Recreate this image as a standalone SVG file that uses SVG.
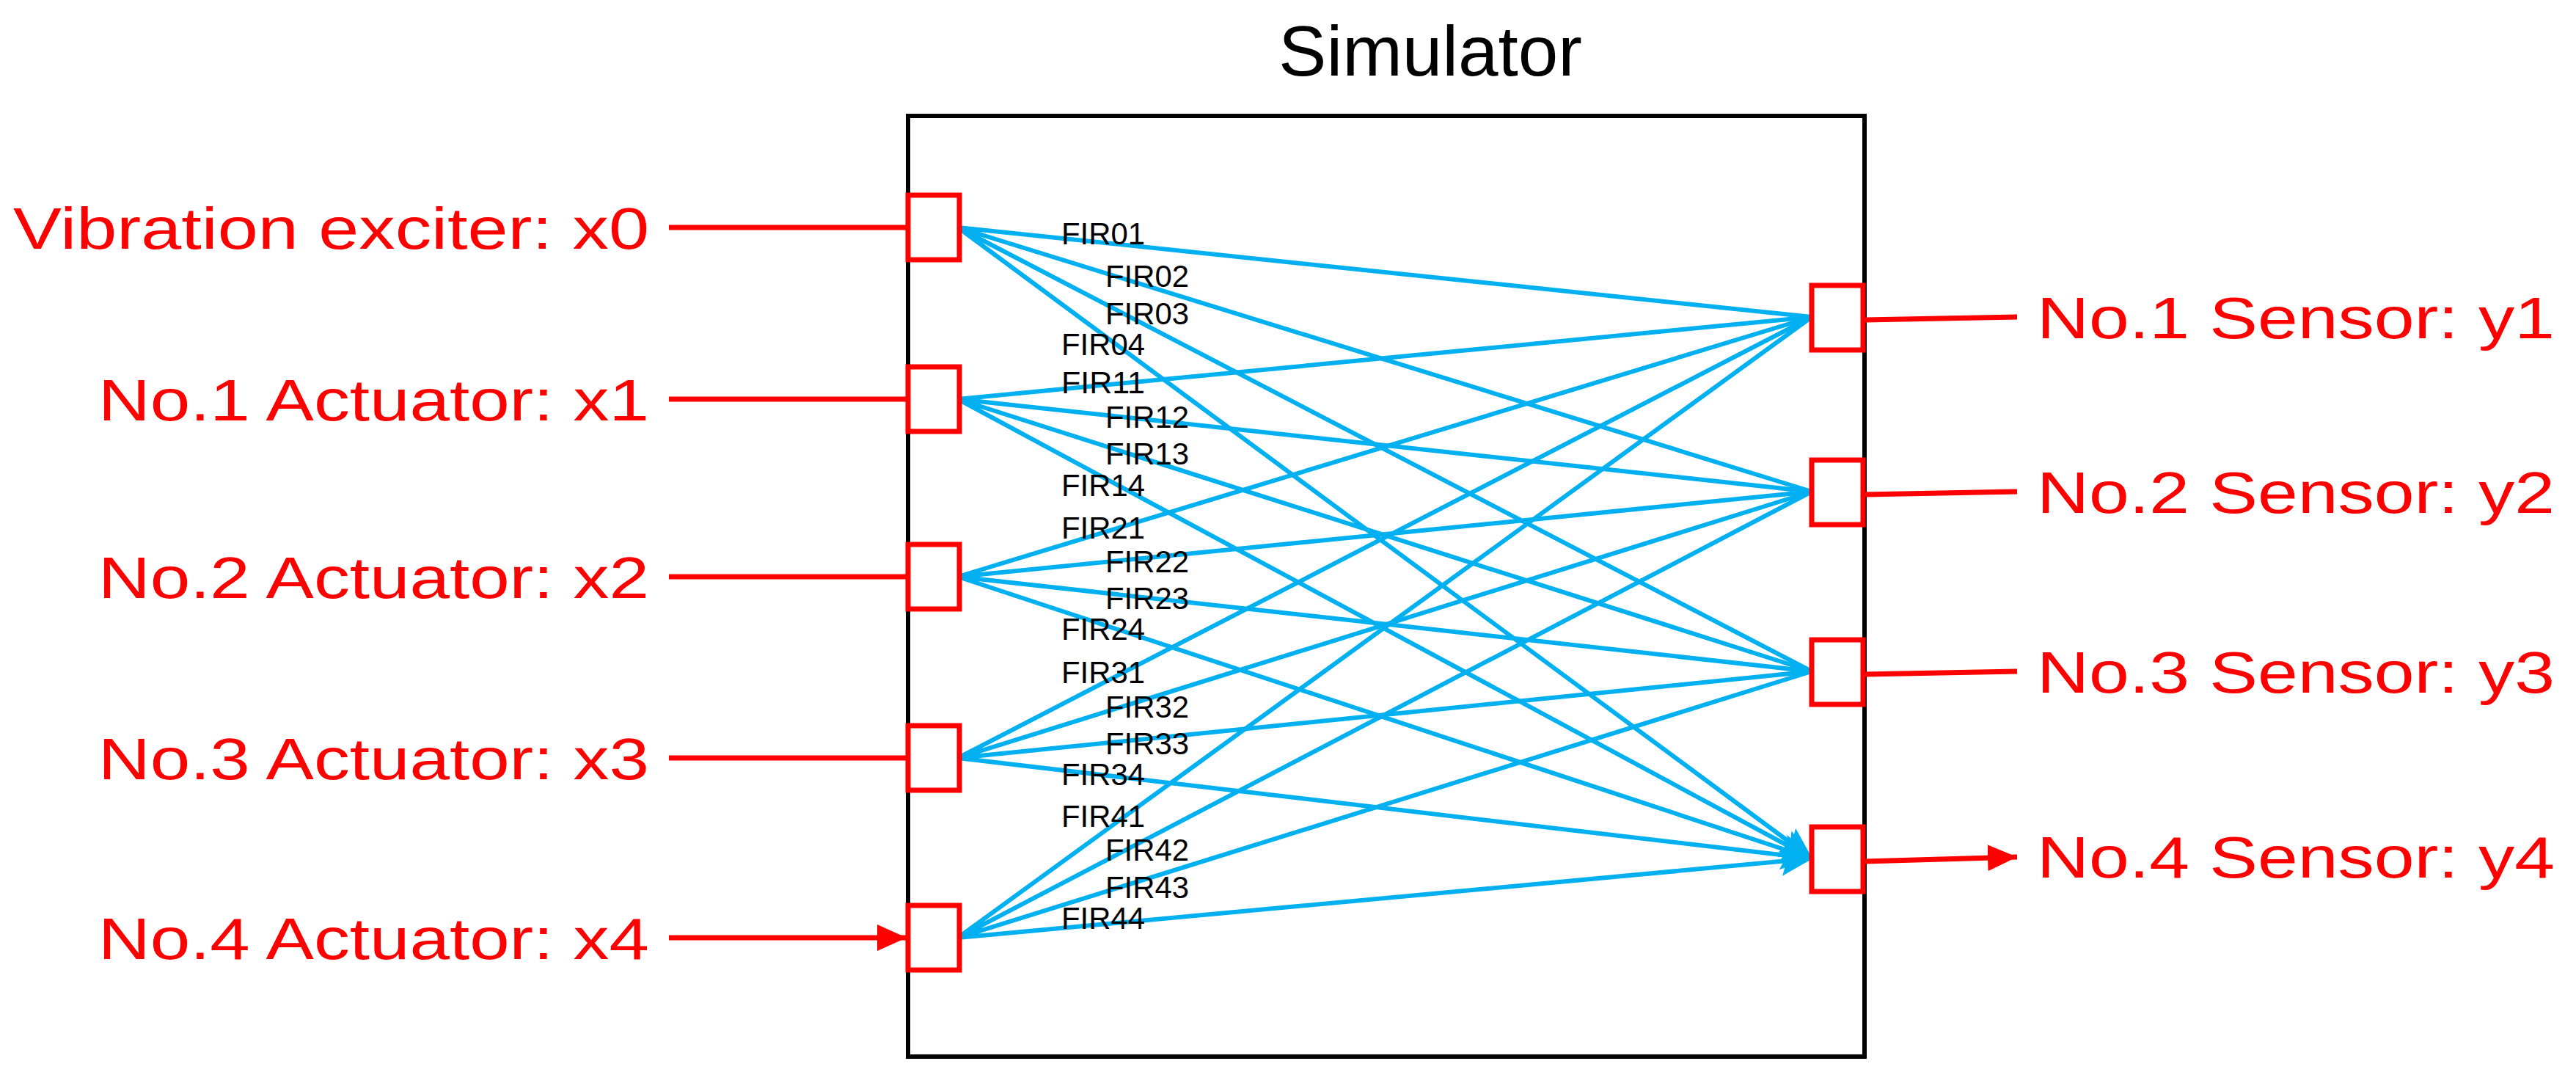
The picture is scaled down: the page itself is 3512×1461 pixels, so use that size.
<svg xmlns="http://www.w3.org/2000/svg" width="3512" height="1461" viewBox="0 0 3512 1461">
<style>
.lbl{font-family:"Liberation Sans",Arial,sans-serif;font-size:80px;fill:#FF0000}
.fir{font-family:"Liberation Sans",Arial,sans-serif;font-size:42px;fill:#000}
.port{fill:#fff;stroke:#FF0000;stroke-width:7}
.red{stroke:#FF0000;stroke-width:7;fill:none}
.blue{stroke:#00B0F0;stroke-width:6;fill:none}
</style>
<defs>
<marker id="ab" markerUnits="userSpaceOnUse" markerWidth="44" markerHeight="40" refX="42" refY="20" orient="auto"><path d="M0,0 L44,20 L0,40 L8,20 Z" fill="#00B0F0"/></marker>
<marker id="ar" markerUnits="userSpaceOnUse" markerWidth="40" markerHeight="36" refX="40" refY="18" orient="auto"><path d="M0,0 L40,18 L0,36 Z" fill="#FF0000"/></marker>
</defs>
<rect width="3512" height="1461" fill="#fff"/>
<g id="simulator">
<rect x="1238" y="158" width="1304" height="1282" fill="#fff" stroke="#000" stroke-width="6"/>
<text x="1743" y="103" font-family="'Liberation Sans',Arial,sans-serif" font-size="96" textLength="414" lengthAdjust="spacingAndGlyphs">Simulator</text>
</g>
<g id="connectors">
<path class="blue" marker-end="url(#ab)" d="M1306,310L2470,432M1306,310L2470,670M1306,310L2470,915M1306,310L2470,1170"/>
<path class="blue" marker-end="url(#ab)" d="M1306,544L2470,432M1306,544L2470,670M1306,544L2470,915M1306,544L2470,1170"/>
<path class="blue" marker-end="url(#ab)" d="M1306,786L2470,432M1306,786L2470,670M1306,786L2470,915M1306,786L2470,1170"/>
<path class="blue" marker-end="url(#ab)" d="M1306,1033L2470,432M1306,1033L2470,670M1306,1033L2470,915M1306,1033L2470,1170"/>
<path class="blue" marker-end="url(#ab)" d="M1306,1278L2470,432M1306,1278L2470,670M1306,1278L2470,915M1306,1278L2470,1170"/>
<path class="red" marker-end="url(#ar)" d="M912,310H1236M912,544H1236M912,786H1236M912,1033H1236M912,1278H1236"/>
<path class="red" marker-end="url(#ar)" d="M2542,436L2750,432M2542,674L2750,670M2542,919L2750,915M2542,1174L2750,1168"/>
</g>
<g id="fir-labels">
<text class="fir" x="1447" y="333" textLength="114" lengthAdjust="spacingAndGlyphs">FIR01</text>
<text class="fir" x="1507" y="391" textLength="114" lengthAdjust="spacingAndGlyphs">FIR02</text>
<text class="fir" x="1507" y="442" textLength="114" lengthAdjust="spacingAndGlyphs">FIR03</text>
<text class="fir" x="1447" y="484" textLength="114" lengthAdjust="spacingAndGlyphs">FIR04</text>
<text class="fir" x="1447" y="536" textLength="114" lengthAdjust="spacingAndGlyphs">FIR11</text>
<text class="fir" x="1507" y="583" textLength="114" lengthAdjust="spacingAndGlyphs">FIR12</text>
<text class="fir" x="1507" y="633" textLength="114" lengthAdjust="spacingAndGlyphs">FIR13</text>
<text class="fir" x="1447" y="676" textLength="114" lengthAdjust="spacingAndGlyphs">FIR14</text>
<text class="fir" x="1447" y="734" textLength="114" lengthAdjust="spacingAndGlyphs">FIR21</text>
<text class="fir" x="1507" y="780" textLength="114" lengthAdjust="spacingAndGlyphs">FIR22</text>
<text class="fir" x="1507" y="830" textLength="114" lengthAdjust="spacingAndGlyphs">FIR23</text>
<text class="fir" x="1447" y="872" textLength="114" lengthAdjust="spacingAndGlyphs">FIR24</text>
<text class="fir" x="1447" y="931" textLength="114" lengthAdjust="spacingAndGlyphs">FIR31</text>
<text class="fir" x="1507" y="978" textLength="114" lengthAdjust="spacingAndGlyphs">FIR32</text>
<text class="fir" x="1507" y="1028" textLength="114" lengthAdjust="spacingAndGlyphs">FIR33</text>
<text class="fir" x="1447" y="1070" textLength="114" lengthAdjust="spacingAndGlyphs">FIR34</text>
<text class="fir" x="1447" y="1127" textLength="114" lengthAdjust="spacingAndGlyphs">FIR41</text>
<text class="fir" x="1507" y="1173" textLength="114" lengthAdjust="spacingAndGlyphs">FIR42</text>
<text class="fir" x="1507" y="1224" textLength="114" lengthAdjust="spacingAndGlyphs">FIR43</text>
<text class="fir" x="1447" y="1266" textLength="114" lengthAdjust="spacingAndGlyphs">FIR44</text>
</g>
<g id="in0"><rect class="port" x="1238" y="266" width="70" height="88"/><text class="lbl" x="18" y="339" textLength="867" lengthAdjust="spacingAndGlyphs">Vibration exciter: x0</text></g>
<g id="in1"><rect class="port" x="1238" y="500" width="70" height="88"/><text class="lbl" x="134" y="573" textLength="751" lengthAdjust="spacingAndGlyphs">No.1 Actuator: x1</text></g>
<g id="in2"><rect class="port" x="1238" y="742" width="70" height="88"/><text class="lbl" x="134" y="815" textLength="751" lengthAdjust="spacingAndGlyphs">No.2 Actuator: x2</text></g>
<g id="in3"><rect class="port" x="1238" y="989" width="70" height="88"/><text class="lbl" x="134" y="1062" textLength="751" lengthAdjust="spacingAndGlyphs">No.3 Actuator: x3</text></g>
<g id="in4"><rect class="port" x="1238" y="1234" width="70" height="88"/><text class="lbl" x="134" y="1307" textLength="751" lengthAdjust="spacingAndGlyphs">No.4 Actuator: x4</text></g>
<g id="out1"><rect class="port" x="2470" y="389" width="70" height="88"/><text class="lbl" x="2777" y="461" textLength="706" lengthAdjust="spacingAndGlyphs">No.1 Sensor: y1</text></g>
<g id="out2"><rect class="port" x="2470" y="627" width="70" height="88"/><text class="lbl" x="2777" y="699" textLength="706" lengthAdjust="spacingAndGlyphs">No.2 Sensor: y2</text></g>
<g id="out3"><rect class="port" x="2470" y="872" width="70" height="88"/><text class="lbl" x="2777" y="944" textLength="706" lengthAdjust="spacingAndGlyphs">No.3 Sensor: y3</text></g>
<g id="out4"><rect class="port" x="2470" y="1127" width="70" height="88"/><text class="lbl" x="2777" y="1196" textLength="706" lengthAdjust="spacingAndGlyphs">No.4 Sensor: y4</text></g>
</svg>
